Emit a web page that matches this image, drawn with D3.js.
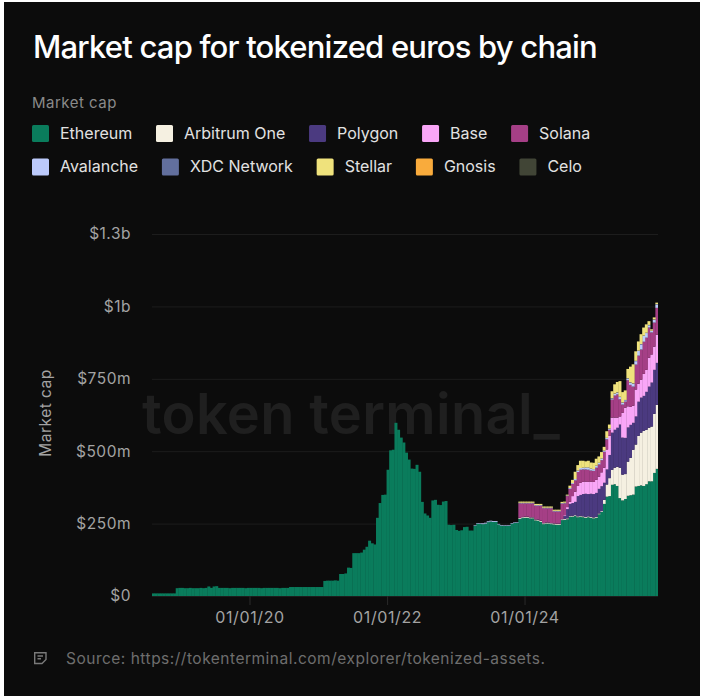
<!DOCTYPE html>
<html>
<head>
<meta charset="utf-8">
<script src="https://cdn.jsdelivr.net/npm/d3@7"></script>
<style>
  html, body { margin: 0; padding: 0; background: #fff; }
  svg { display: block; font-family: Inter, "Noto Sans", sans-serif; }
</style>
</head>
<body>
<div id="chart"></div>
<script>
// biweekly bars, Aug 2018 to Dec 2025
var dates = d3.utcDay.range(new Date(Date.UTC(2018, 7, 1)), new Date(Date.UTC(2025, 11, 10)), 14);
var n = dates.length;

// pad a series with zeros before the chain had any supply
function lead(tail) {
  return new Array(n - tail.length).fill(0).concat(tail);
}

// values in $m
var ethereum = [
  9,9,9,9,9,9,9,9,9,
  27,28,28,27,27,28,27,27,27,28,27,28,
  33,28,33,34,
  28,28,28,28,27,28,28,28,28,28,27,28,28,28,28,28,27,28,28,28,28,28,28,27,28,28,28,
  31,31,31,31,31,31,31,31,31,31,31,31,31,
  52,53,53,53,54,53,
  76,76,78,98,97,
  148,148,148,150,160,170,191,182,178,270,321,349,350,436,503,505,598,574,547,530,495,471,440,439,453,429,
  325,285,278,270,330,332,315,314,326,328,246,245,246,228,225,227,238,239,226,226,242,250,249,248,250,255,257,256,256,
  247,243,242,242,243,250,252,253,266,269,270,270,268,268,261,260,256,248,250,250,248,247,246,246,262,263,265,
  274,274,276,272,274,272,270,272,270,268,270,282,290,318,343,345,384,386,380,338,330,335,346,348,350,
  378,380,382,380,386,396,396,425,439
];
var arbitrum = lead([
  3,3,3,3,3,3,3,3,3,3,3,3,3,3,3,3,3,3,3,3,3,3,3,3,3,3,3,3,3,3,3,3,
  14,42,62,52,57,66,105,89,86,118,129,155,145,173,182,190,188,185,189,204,221
]);
var polygon = lead([
  1,1,1,1,1,1,1,1,1,1,1,1,1,1,1,1,1,
  10,32,41,44,46,70,72,77,80,77,80,81,83,85,86,59,52,80,128,131,135,149,128,125,118,114,93,97,118,121,121,131,142,152,152,145
]);
var base = lead([
  3,7,7,24,35,35,42,42,42,42,42,42,45,42,48,52,69,66,52,42,35,28,86,104,73,62,59,93,62,62,76,76,100,97,80,97
]);
var solana = lead([
  50,47,46,46,48,48,47,48,52,51,49,49,51,41,42,42,53,
  41,38,45,42,39,48,45,43,42,42,38,38,42,42,42,55,35,21,62,76,80,59,28,21,90,76,66,86,97,104,111,111,104,76,83,93
]);
var avalanche = lead([
  2,2,2,3,3,3,3,3,3,2,2,2,2,2,2,2,2,
  2,2,2,2,2,2,2,2,2,2,2,2,2,2,2,2,2,2,2,
  3,3,5,5,6,6,7,8,7,6,7,6,6,4,5,3,4,6,6,8,6,5,6,8,10,12,16,18,20,16,8,5,10,12
]);
var xdc = lead([1,1,1,1,1,1,1,1,1,1,1,1,1,1,1,1,1,1,1]);
var stellar = lead([
  4,4,4,4,4,4,4,4,4,4,4,4,4,4,4,4,4,4,3,
  8,11,25,19,25,24,21,23,21,22,24,22,22,13,23,14,24,32,36,54,36,33,32,54,66,33,32,34,28,29,13,5,7,5
]);
var gnosis = lead([]);
var celo = lead([]);

var chains = ["Ethereum", "Arbitrum One", "Polygon", "Base", "Solana", "Avalanche", "XDC Network", "Stellar", "Gnosis", "Celo"];
var chainValues = [ethereum, arbitrum, polygon, base, solana, avalanche, xdc, stellar, gnosis, celo];
var chainColors = ["#0a7c5c", "#f5f0e1", "#4b3a80", "#f9a6f7", "#a53f86", "#bccafb", "#626f9d", "#efe27c", "#f9ab3c", "#414536"];

var yTicks = [0, 250, 500, 750, 1000, 1250];
var yTickLabels = ["$0", "$250m", "$500m", "$750m", "$1b", "$1.3b"];
var xTicks = [new Date(Date.UTC(2020, 0, 1)), new Date(Date.UTC(2022, 0, 1)), new Date(Date.UTC(2024, 0, 1))];

var svg = d3.select("#chart").append("svg").attr("width", 703).attr("height", 697);

svg.append("rect").attr("x", 4).attr("y", 2).attr("width", 696).attr("height", 694).attr("fill", "#0c0c0c");

svg.append("text").attr("x", 33).attr("y", 58)
  .attr("font-size", 31).attr("font-weight", 500).attr("letter-spacing", -0.8).attr("fill", "#fff")
  .text("Market cap for tokenized euros by chain");

svg.append("text").attr("x", 32).attr("y", 107.5)
  .attr("font-size", 15).attr("letter-spacing", 0.5).attr("fill", "#8a8a8a").text("Market cap");

// legend, two rows of five, laid out from the label widths
var legendRows = [chains.slice(0, 5), chains.slice(5)];
legendRows.forEach((row, r) => {
  var cursor = 32;
  row.forEach((name) => {
    var g = svg.append("g").attr("transform", `translate(${cursor},${125 + r * 33.5})`);
    g.append("rect").attr("width", 17).attr("height", 17).attr("rx", 1.5)
      .attr("fill", chainColors[chains.indexOf(name)]);
    var label = g.append("text").attr("x", 28).attr("y", 13.5)
      .attr("font-size", 16).attr("fill", "#e2e2e2").text(name);
    cursor += 28 + label.node().getComputedTextLength() + 23.8;
  });
});

var x = d3.scaleUtc()
  .domain([dates[0], d3.utcDay.offset(dates[n - 1], 14)])
  .range([152, 658]);
var y = d3.scaleLinear().domain([0, 1250]).range([596, 234]);

// grid and y labels
var yAxis = svg.append("g").attr("transform", "translate(152,0)")
  .call(d3.axisLeft(y).tickValues(yTicks).tickSize(-506).tickPadding(21)
    .tickFormat((d, i) => yTickLabels[i]));
yAxis.select(".domain").remove();
yAxis.selectAll("line").attr("stroke", "#1d1d1d");
yAxis.selectAll("text").attr("font-size", 15.5).attr("letter-spacing", 0.5).attr("font-family", "Inter").attr("fill", "#a3a3a3");

// watermark sits under the bars
svg.append("text").attr("x", 142).attr("y", 434)
  .attr("font-size", 56).attr("font-weight", 600).attr("letter-spacing", 0.3).attr("fill", "#1f1f1f")
  .text("token terminal_");

var table = dates.map((d, i) => {
  var row = { date: d };
  chains.forEach((c, j) => { row[c] = chainValues[j][i]; });
  return row;
});
var stacked = d3.stack().keys(chains)(table);

// a little overlap so the seams between bars stay faint
svg.append("g").selectAll("g").data(stacked).join("g")
  .attr("fill", (s, i) => chainColors[i])
  .selectAll("rect").data(s => s).join("rect")
  .attr("x", d => x(d.data.date))
  .attr("width", d => Math.min(x(d3.utcDay.offset(d.data.date, 14)) + 0.35, 658) - x(d.data.date))
  .attr("y", d => y(d[1]))
  .attr("height", d => y(d[0]) - y(d[1]));

var xAxis = svg.append("g").attr("transform", "translate(0,596)")
  .call(d3.axisBottom(x).tickValues(xTicks).tickSize(9).tickPadding(7)
    .tickFormat(d3.utcFormat("%m/%d/%y")));
xAxis.select(".domain").remove();
xAxis.selectAll("line").attr("stroke", "#2a2a2a");
xAxis.selectAll("text").attr("font-size", 16).attr("letter-spacing", 0.6).attr("font-family", "Inter").attr("fill", "#a3a3a3");

svg.append("text")
  .attr("transform", "translate(51,413) rotate(-90)")
  .attr("text-anchor", "middle").attr("font-size", 15.5).attr("letter-spacing", 0.5).attr("fill", "#a3a3a3")
  .text("Market cap");

// source note with its small page icon
var icon = svg.append("g").attr("transform", "translate(34,652)")
  .attr("fill", "none").attr("stroke", "#7a7a7a").attr("stroke-width", 1.4);
icon.append("path").attr("d", "M0.7 0.7H12V7.5L8 11.5H0.7Z");
icon.append("path").attr("d", "M3.5 4H9M3.5 6.8H7");

svg.append("text").attr("x", 66).attr("y", 664)
  .attr("font-size", 15.5).attr("letter-spacing", 0.5).attr("fill", "#6e6e6e")
  .text("Source: https://tokenterminal.com/explorer/tokenized-assets.");
</script>
</body>
</html>
